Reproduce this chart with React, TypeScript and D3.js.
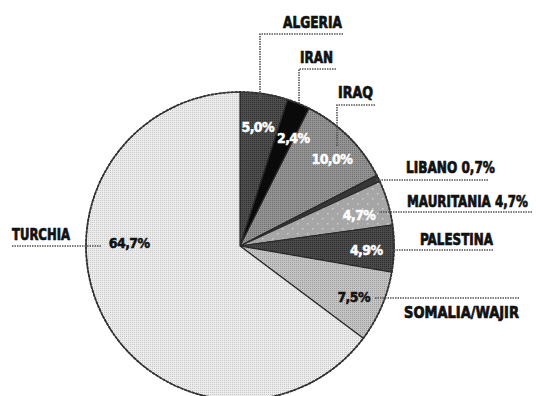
import React, { useLayoutEffect, useRef, useState } from "react";
import * as d3 from "d3";

// Share of each country of origin, in percent, clockwise from 12 o'clock
const countries = ["ALGERIA", "IRAN", "IRAQ", "LIBANO", "MAURITANIA", "PALESTINA", "SOMALIA/WAJIR", "TURCHIA"];
const shares = [5.0, 2.4, 10.0, 0.7, 4.7, 4.9, 7.5, 64.7];
// Which names carry the value next to the name
const valueInName = [false, false, false, true, true, false, false, false];
// Which slices carry the value inside
const valueInside = [true, true, true, false, true, true, true, true];

// Slice fills: [base tone, halftone dot tone]
const fills: [string, string][] = [
  ["#4e4e4e", "#2e2e2e"],
  ["#0a0a0a", "#0a0a0a"],
  ["#949494", "#6e6e6e"],
  ["#363636", "#363636"],
  ["#a6a6a6", "#cdcdcd"],
  ["#4a4a4a", "#2c2c2c"],
  ["#c4c4c4", "#9c9c9c"],
  ["#ececec", "#c8c8c8"],
];
const innerLabelColor = ["#fff", "#fff", "#fff", "#fff", "#fff", "#fff", "#111", "#111"];

// Inside-label placement: [angle shift in degrees, fraction of radius]
const innerPlacement: [number, number][] = [
  [-0.5, 0.78], [4, 0.78], [2, 0.82], [0, 0.8], [1.5, 0.8], [1, 0.82], [1, 0.81], [28, 0.72],
];

// Name labels: text start/end x, baseline y, and leader polyline
const nameLayout: { x0: number; x1: number; y: number; leader: [number, number][] }[] = [
  { x0: 283, x1: 342, y: 28, leader: [[343, 34], [260, 34], [260, 100]] },
  { x0: 300, x1: 333, y: 63, leader: [[336, 69], [299, 69], [299, 104]] },
  { x0: 338, x1: 373, y: 98, leader: [[375, 105], [337, 105], [337, 146]] },
  { x0: 406, x1: 495, y: 173, leader: [[488, 180], [376, 180]] },
  { x0: 407, x1: 528, y: 207, leader: [[532, 212], [379, 212]] },
  { x0: 420, x1: 493, y: 245, leader: [[493, 250], [390, 250]] },
  { x0: 404, x1: 519, y: 318, leader: [[519, 298], [375, 298]] },
  { x0: 12, x1: 70, y: 240, leader: [[12, 246], [101, 246]] },
];

const W = 536;
const H = 396;
const cx = 240;
const cy = 246;
const R = 154;

const FONT = "'Liberation Sans Narrow', 'DejaVu Sans Condensed', 'Liberation Sans', sans-serif";

const fmt = (v: number) => v.toFixed(1).replace(".", ",") + "%";

export default function App() {
  const pie = d3.pie<number>().sort(null).value((d) => d)(shares);
  const arc = d3.arc<d3.PieArcDatum<number>>().innerRadius(0).outerRadius(R);
  const line = d3.line();

  // Horizontal squeeze per name label so each fits its span
  const nameRefs = useRef<(SVGTextElement | null)[]>([]);
  const [squeeze, setSqueeze] = useState<number[]>(nameLayout.map(() => 0.7));
  useLayoutEffect(() => {
    const s = nameLayout.map((n, i) => {
      const el = nameRefs.current[i];
      const w = el ? el.getComputedTextLength() : 0;
      return w > 0 ? (n.x1 - n.x0) / w : 0.7;
    });
    setSqueeze(s);
  }, []);

  return (
    <svg width={W} height={H} style={{ position: "absolute", left: 0, top: 0, background: "#fff" }}>
      <defs>
        {fills.map(([base, dot], i) =>
          i === 4 ? (
            <pattern key={i} id={`fill-${i}`} width={10} height={10} patternUnits="userSpaceOnUse">
              <rect width={10} height={10} fill={base} />
              <rect x={2} y={2} width={1.5} height={1.5} fill={dot} />
              <rect x={7} y={7} width={1.5} height={1.5} fill={dot} />
            </pattern>
          ) : (
            <pattern key={i} id={`fill-${i}`} width={2} height={2} patternUnits="userSpaceOnUse">
              <rect width={2} height={2} fill={base} />
              <rect width={1} height={1} fill={dot} />
            </pattern>
          )
        )}
      </defs>

      <g transform={`translate(${cx},${cy})`}>
        {pie.map((p, i) => (
          <path key={countries[i]} d={arc(p) ?? ""} fill={`url(#fill-${i})`} stroke="#2a2a2a" strokeWidth={1.2} />
        ))}
        <circle r={R} fill="none" stroke="#333" strokeWidth={1.8} strokeDasharray="3 1" />
      </g>

      {nameLayout.map((n, i) => (
        <path
          key={`leader-${i}`}
          d={line(n.leader) ?? ""}
          fill="none"
          stroke="#555"
          strokeWidth={1.6}
          strokeDasharray="1.5 1"
        />
      ))}

      <g transform={`translate(${cx},${cy})`}>
        {pie.map((p, i) => {
          if (!valueInside[i]) return null;
          const [shift, k] = innerPlacement[i];
          const a = (p.startAngle + p.endAngle) / 2 + (shift * Math.PI) / 180;
          const x = Math.sin(a) * R * k;
          const y = -Math.cos(a) * R * k;
          return (
            <text
              key={`v-${i}`}
              x={x}
              y={y}
              dy="0.36em"
              textAnchor="middle"
              fontFamily={FONT}
              fontWeight={900}
              fontSize={14}
              letterSpacing={-0.6}
              fill={innerLabelColor[i]}
              stroke={innerLabelColor[i]}
              strokeWidth={0.5}
            >
              {fmt(shares[i])}
            </text>
          );
        })}
      </g>

      {nameLayout.map((n, i) => (
        <g key={`name-${i}`} transform={`translate(${n.x0},${n.y}) scale(${squeeze[i]},1)`}>
          <text
            ref={(el) => {
              nameRefs.current[i] = el;
            }}
            x={0}
            y={0}
            fontFamily={FONT}
            fontWeight={900}
            fontSize={16}
            fill="#111"
            stroke="#111"
            strokeWidth={0.7}
          >
            {valueInName[i] ? `${countries[i]} ${fmt(shares[i])}` : countries[i]}
          </text>
        </g>
      ))}
    </svg>
  );
}
